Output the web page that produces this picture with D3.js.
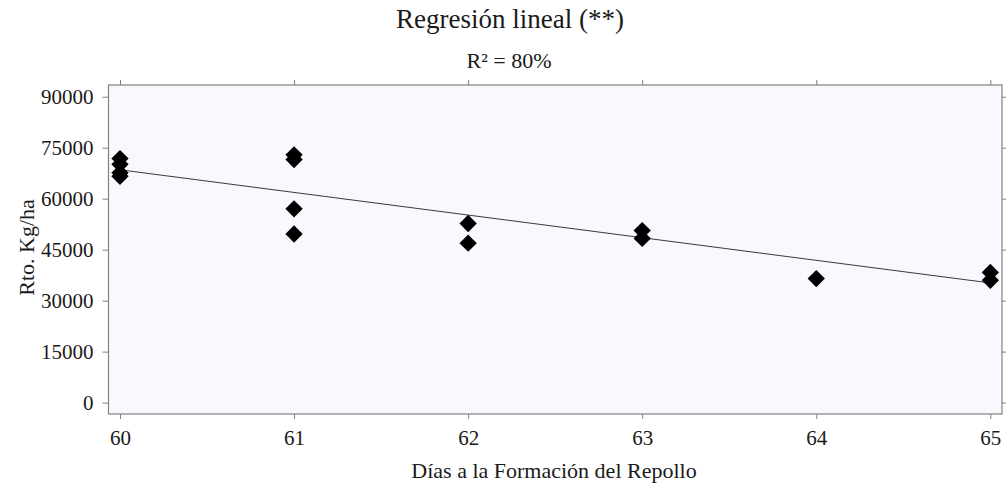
<!DOCTYPE html>
<html>
<head>
<meta charset="utf-8">
<script src="https://cdn.jsdelivr.net/npm/d3@7"></script>
<style>
  body { margin: 0; background: #ffffff; }
  svg text { font-family: "Liberation Serif", "Times New Roman", Times, "DejaVu Serif", serif !important; fill: #1a1a1a; }
  .axis path { display: none; }
  .axis line { stroke: #808080; stroke-width: 1; }
  .axis text { font-size: 21px; }
</style>
</head>
<body>
<div class="g-chart"></div>
<script>
//Local data
var days = [60, 60, 60, 60, 61, 61, 61, 61, 62, 62, 63, 63, 64, 65, 65];
var yields = [71800, 70100, 67600, 66600, 72900, 71500, 57000, 49600, 52700, 46900, 50600, 48300, 36500, 38300, 36000];

//Fitted line
var fitDays = [60, 65];
var fitYields = [68500, 35200];

//Tick labels
var xTicks = [60, 61, 62, 63, 64, 65];
var yTicks = [0, 15000, 30000, 45000, 60000, 75000, 90000];

//Texts
var headline = "Regresión lineal (**)";
var subHeadline = "R² = 80%";
var xTitle = "Días a la Formación del Repollo";
var yTitle = "Rto. Kg/ha";

//Margin conventions
var margin = {top: 85, right: 4, bottom: 72, left: 108.5};
var outerWidth = 1006, outerHeight = 486;
var width = outerWidth - margin.left - margin.right,
    height = outerHeight - margin.top - margin.bottom;

var svg = d3.select(".g-chart").append("svg")
  .attr("width", outerWidth)
  .attr("height", outerHeight)
  .attr("font-family", "Liberation Serif");

var g = svg.append("g")
  .attr("transform", "translate(" + margin.left + "," + margin.top + ")");

//Scales
var xScale = d3.scaleLinear()
  .domain([59.934, 65.067])
  .range([0, width]);

var yScale = d3.scaleLinear()
  .domain([-3357, 93446])
  .range([height, 0]);

//Plot background
g.append("rect")
  .attr("width", width)
  .attr("height", height)
  .style("fill", "#f8f8ff");

//Axes
g.append("g")
  .attr("class", "y axis")
  .call(d3.axisLeft(yScale).tickValues(yTicks).tickFormat(d3.format("d")).tickSize(6).tickPadding(9));

g.append("g")
  .attr("class", "y axis")
  .attr("transform", "translate(" + width + ",0)")
  .call(d3.axisRight(yScale).tickValues(yTicks).tickSize(6).tickFormat(""));

g.append("g")
  .attr("class", "x axis")
  .attr("transform", "translate(0," + height + ")")
  .call(d3.axisBottom(xScale).tickValues(xTicks).tickFormat(d3.format("d")).tickSize(5).tickPadding(11));

g.append("g")
  .attr("class", "x axis")
  .call(d3.axisTop(xScale).tickValues(xTicks).tickSize(5).tickFormat(""));

//Axis groups get a sans font from d3, reset it
g.selectAll(".axis").attr("font-family", null).attr("font-size", null);

//Frame
g.append("rect")
  .attr("width", width)
  .attr("height", height)
  .style("fill", "none")
  .style("stroke", "#808080")
  .style("stroke-width", 1.2);

//Regression line
var line = d3.line()
  .x(function(d) { return xScale(d[0]); })
  .y(function(d) { return yScale(d[1]); });

g.append("path")
  .datum(d3.zip(fitDays, fitYields))
  .attr("d", line)
  .style("fill", "none")
  .style("stroke", "#3a3a3a")
  .style("stroke-width", 1);

//Diamonds
var diamond = d3.symbol().type(d3.symbolSquare).size(150);

g.selectAll(".g-point")
  .data(d3.zip(days, yields))
  .enter()
  .append("path")
  .attr("class", "g-point")
  .attr("d", diamond)
  .attr("transform", function(d) {
    return "translate(" + xScale(d[0]) + "," + yScale(d[1]) + ") rotate(45)";
  })
  .style("fill", "#000000");

//Titles
svg.append("text")
  .attr("x", 510)
  .attr("y", 28)
  .attr("text-anchor", "middle")
  .style("font-size", "27px")
  .text(headline);

svg.append("text")
  .attr("x", 509)
  .attr("y", 68)
  .attr("text-anchor", "middle")
  .style("font-size", "22px")
  .text(subHeadline);

svg.append("text")
  .attr("x", 554)
  .attr("y", 478)
  .attr("text-anchor", "middle")
  .style("font-size", "22px")
  .text(xTitle);

svg.append("text")
  .attr("transform", "translate(34," + (margin.top + height / 2 - 2) + ") rotate(-90)")
  .attr("text-anchor", "middle")
  .style("font-size", "22px")
  .text(yTitle);
</script>
</body>
</html>
